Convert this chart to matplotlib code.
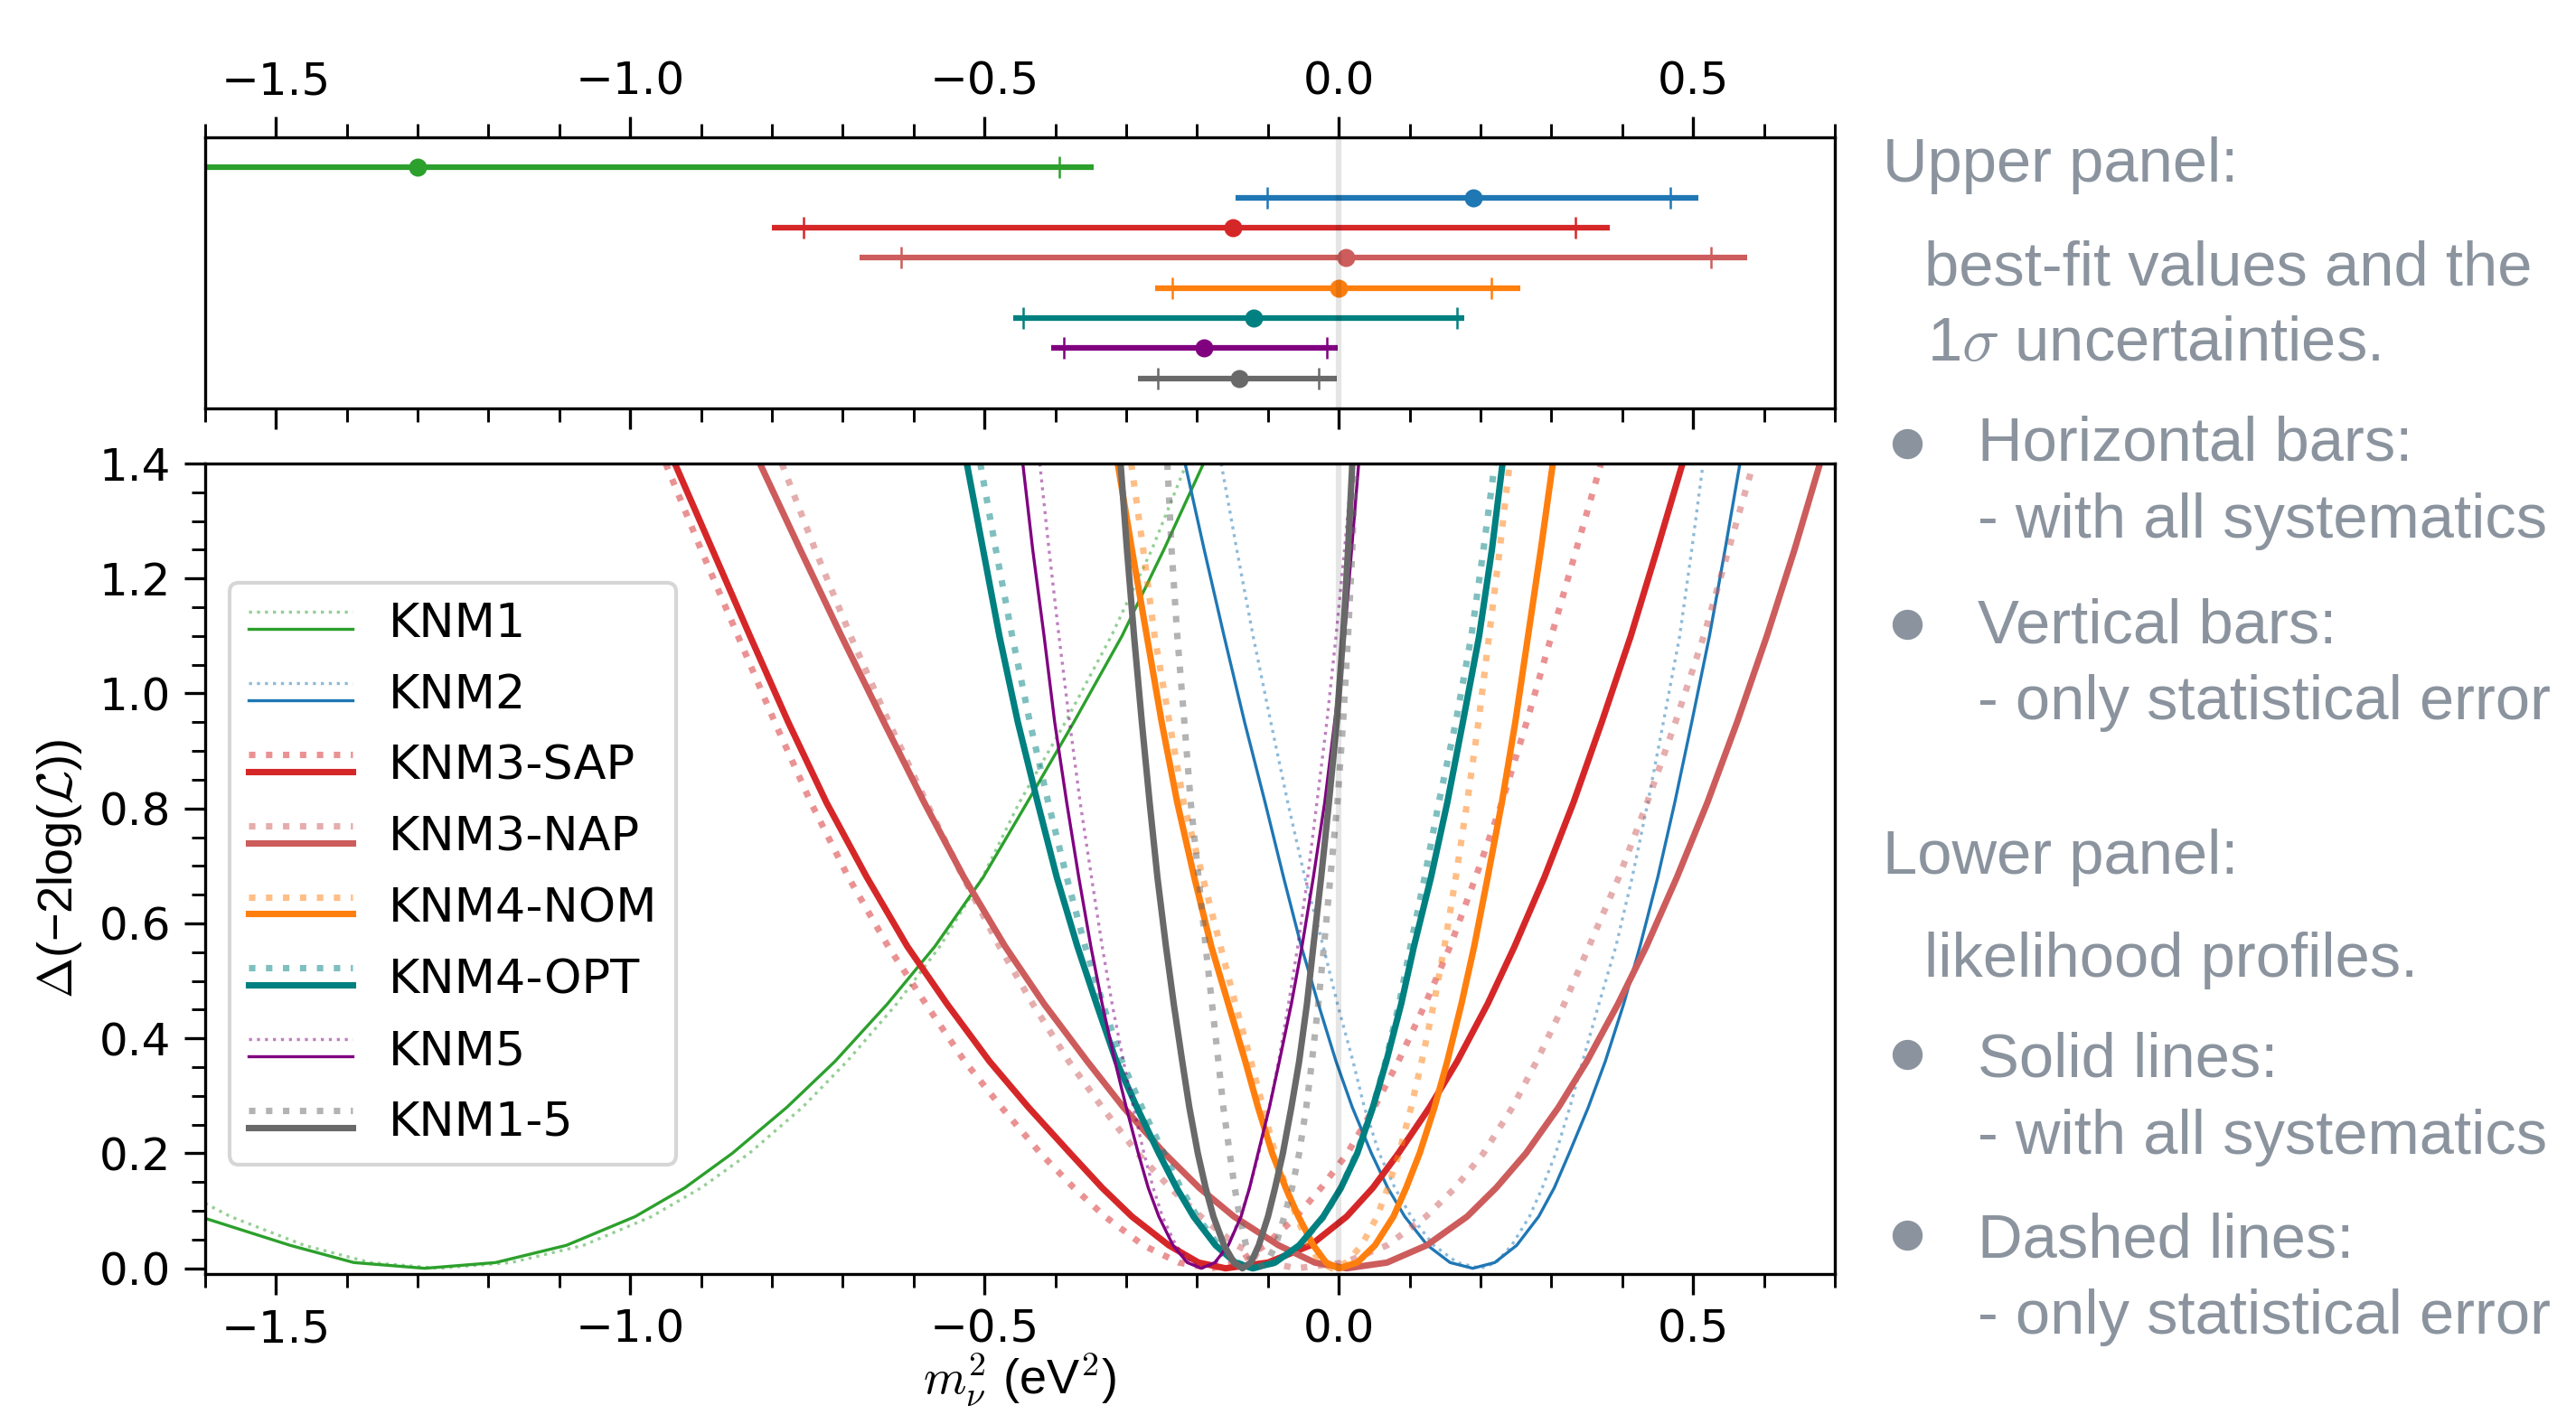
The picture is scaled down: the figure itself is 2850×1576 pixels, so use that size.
import matplotlib
matplotlib.use('Agg')
import matplotlib.pyplot as plt
from matplotlib.lines import Line2D
from matplotlib.legend_handler import HandlerBase
from matplotlib.ticker import MultipleLocator

plt.rcParams['font.size'] = 12
plt.rcParams['mathtext.fontset'] = 'cm'

labels = ['KNM1', 'KNM2', 'KNM3-SAP', 'KNM3-NAP', 'KNM4-NOM', 'KNM4-OPT', 'KNM5', 'KNM1-5']
colors = ['tab:green', 'tab:blue', 'tab:red', 'indianred', 'tab:orange', 'teal', 'purple', 'dimgray']
thick = [False, False, True, True, True, True, False, True]

# upper panel: best fit, total 1 sigma (bar) and stat-only 1 sigma (caps)
best_fit = [-1.30, 0.19, -0.15, 0.01, 0.00, -0.12, -0.19, -0.14]
tot_lo = [-2.25, -0.146, -0.80, -0.676, -0.259, -0.459, -0.406, -0.283]
tot_hi = [-0.346, 0.507, 0.382, 0.576, 0.256, 0.177, -0.002, -0.003]
stat_lo = [-2.20, -0.101, -0.755, -0.618, -0.235, -0.446, -0.388, -0.256]
stat_hi = [-0.395, 0.468, 0.334, 0.525, 0.215, 0.167, -0.017, -0.029]

# lower panel: likelihood profiles (solid = all syst, _stat = stat only)
# KNM1 runs out of the frame on the left, so it gets its own y values
knm1_x = [-1.60, -1.48, -1.39, -1.29, -1.19, -1.09, -0.993, -0.923, -0.856, -0.779, -0.711, -0.637, -0.57,
          -0.502, -0.44, -0.374, -0.306, -0.247, -0.191]
knm1_y = [0.087, 0.04, 0.01, 0.0, 0.01, 0.04, 0.09, 0.14, 0.20, 0.28, 0.36, 0.46, 0.56,
          0.68, 0.81, 0.95, 1.10, 1.25, 1.40]
knm1_stat_x = [-1.60, -1.564, -1.46, -1.367, -1.27, -1.168, -1.066, -0.97, -0.90, -0.832, -0.757, -0.694,
               -0.624, -0.563, -0.503, -0.451, -0.386, -0.321, -0.264, -0.215]
knm1_stat_y = [0.113, 0.09, 0.04, 0.01, 0.0, 0.01, 0.04, 0.09, 0.14, 0.20, 0.28, 0.36,
               0.46, 0.56, 0.68, 0.81, 0.95, 1.10, 1.25, 1.40]

# the other profiles: x where each curve crosses these levels (left branch, minimum, right branch)
prof_levels = [1.40, 1.25, 1.10, 0.95, 0.81, 0.68, 0.56, 0.46, 0.36, 0.28, 0.20, 0.14, 0.09, 0.04, 0.01, 0.0,
               0.01, 0.04, 0.09, 0.14, 0.20, 0.28, 0.36, 0.46, 0.56, 0.68, 0.81, 0.95, 1.10, 1.25, 1.40]
knm2_x = [-0.217, -0.19, -0.162, -0.133, -0.104, -0.078, -0.053, -0.029, -0.004, 0.019, 0.046, 0.069, 0.093,
          0.125, 0.157, 0.189,
          0.22, 0.251, 0.282, 0.304, 0.325, 0.352, 0.376, 0.402, 0.425, 0.45, 0.474, 0.498, 0.523, 0.545, 0.566]
knm2_stat_x = [-0.166, -0.144, -0.121, -0.096, -0.072, -0.048, -0.022, -0.002, 0.02, 0.036, 0.057, 0.079, 0.102,
               0.134, 0.167, 0.20,
               0.222, 0.244, 0.269, 0.287, 0.306, 0.326, 0.344, 0.367, 0.391, 0.414, 0.436, 0.458, 0.481, 0.498,
               0.514]
knm3sap_x = [-0.937, -0.884, -0.831, -0.777, -0.723, -0.666, -0.609, -0.553, -0.493, -0.438, -0.379, -0.334,
             -0.292, -0.24, -0.198, -0.16,
             -0.10, -0.04, 0.011, 0.048, 0.084, 0.128, 0.167, 0.21, 0.248, 0.29, 0.331, 0.371, 0.412, 0.449, 0.485]
knm3sap_stat_x = [-0.95, -0.90, -0.848, -0.796, -0.745, -0.692, -0.636, -0.583, -0.528, -0.476, -0.421, -0.374,
                  -0.33, -0.276, -0.226, -0.18,
                  -0.143, -0.104, -0.06, -0.025, 0.012, 0.05, 0.084, 0.122, 0.157, 0.193, 0.23, 0.265, 0.30,
                  0.335, 0.37]
knm3nap_x = [-0.817, -0.76, -0.702, -0.642, -0.585, -0.529, -0.471, -0.416, -0.355, -0.304, -0.246, -0.197,
             -0.148, -0.085, -0.034, 0.011,
             0.068, 0.124, 0.181, 0.222, 0.264, 0.31, 0.35, 0.394, 0.434, 0.477, 0.52, 0.562, 0.604, 0.643, 0.679]
knm3nap_stat_x = [-0.786, -0.739, -0.689, -0.635, -0.582, -0.53, -0.479, -0.432, -0.381, -0.334, -0.284, -0.238,
                  -0.195, -0.144, -0.099, -0.06,
                  0.008, 0.068, 0.123, 0.164, 0.204, 0.245, 0.279, 0.318, 0.353, 0.395, 0.435, 0.475, 0.515,
                  0.55, 0.585]
knm4nom_x = [-0.312, -0.292, -0.271, -0.25, -0.228, -0.204, -0.18, -0.156, -0.132, -0.114, -0.094, -0.075,
             -0.057, -0.036, -0.018, 0.0,
             0.026, 0.051, 0.077, 0.095, 0.114, 0.135, 0.153, 0.173, 0.191, 0.21, 0.23, 0.249, 0.267, 0.285, 0.302]
knm4nom_stat_x = [-0.293, -0.276, -0.26, -0.239, -0.219, -0.192, -0.167, -0.146, -0.124, -0.107, -0.09, -0.074,
                  -0.06, -0.042, -0.026, -0.01,
                  0.011, 0.032, 0.054, 0.069, 0.085, 0.102, 0.117, 0.134, 0.149, 0.165, 0.181, 0.197, 0.212,
                  0.227, 0.241]
knm4opt_x = [-0.525, -0.502, -0.479, -0.453, -0.425, -0.398, -0.369, -0.342, -0.314, -0.285, -0.254, -0.229,
             -0.205, -0.174, -0.146, -0.122,
             -0.09, -0.056, -0.022, 0.003, 0.026, 0.048, 0.067, 0.088, 0.106, 0.13, 0.153, 0.175, 0.198, 0.216,
             0.231]
knm4opt_stat_x = [-0.506, -0.484, -0.461, -0.436, -0.41, -0.384, -0.358, -0.333, -0.306, -0.278, -0.247, -0.223,
                  -0.20, -0.17, -0.143, -0.12,
                  -0.089, -0.055, -0.021, 0.003, 0.025, 0.048, 0.066, 0.085, 0.101, 0.121, 0.141, 0.165, 0.187,
                  0.204, 0.22]
knm5_x = [-0.446, -0.432, -0.416, -0.401, -0.384, -0.367, -0.35, -0.334, -0.316, -0.30, -0.283, -0.269,
          -0.254, -0.234, -0.214, -0.194,
          -0.175, -0.156, -0.138, -0.126, -0.114, -0.098, -0.084, -0.067, -0.052, -0.036, -0.02, -0.006, 0.008,
          0.018, 0.028]
knm5_stat_x = [-0.422, -0.409, -0.395, -0.38, -0.365, -0.349, -0.334, -0.32, -0.304, -0.29, -0.275, -0.262,
               -0.249, -0.23, -0.21, -0.19,
               -0.173, -0.156, -0.139, -0.126, -0.113, -0.098, -0.085, -0.071, -0.058, -0.044, -0.031, -0.017,
               -0.004, 0.008, 0.019]
knm15_x = [-0.308, -0.299, -0.289, -0.278, -0.267, -0.256, -0.244, -0.233, -0.221, -0.211, -0.199, -0.188,
           -0.177, -0.162, -0.148, -0.136,
           -0.124, -0.113, -0.10, -0.09, -0.079, -0.067, -0.056, -0.045, -0.036, -0.025, -0.014, -0.003, 0.006,
           0.013, 0.019]
knm15_stat_x = [-0.242, -0.236, -0.228, -0.218, -0.209, -0.198, -0.188, -0.179, -0.17, -0.163, -0.154, -0.147,
                -0.14, -0.131, -0.123, -0.115,
                -0.102, -0.089, -0.077, -0.066, -0.056, -0.046, -0.038, -0.029, -0.021, -0.012, -0.002, 0.006,
                0.013, 0.019, 0.023]

profiles = [
    (knm1_x, knm1_y, knm1_stat_x, knm1_stat_y),
    (knm2_x, prof_levels, knm2_stat_x, prof_levels),
    (knm3sap_x, prof_levels, knm3sap_stat_x, prof_levels),
    (knm3nap_x, prof_levels, knm3nap_stat_x, prof_levels),
    (knm4nom_x, prof_levels, knm4nom_stat_x, prof_levels),
    (knm4opt_x, prof_levels, knm4opt_stat_x, prof_levels),
    (knm5_x, prof_levels, knm5_stat_x, prof_levels),
    (knm15_x, prof_levels, knm15_stat_x, prof_levels),
]

note_color = '#8b949e'
note_font = 'Liberation Sans'


class TwoLineHandler(HandlerBase):
    # dotted line on top, solid one below, like the original legend
    def create_artists(self, legend, orig_handle, xdescent, ydescent, width, height, fontsize, trans):
        dotted, solid = orig_handle
        yc = height / 2 - ydescent
        out = []
        for h, dy in ((dotted, 0.18 * fontsize), (solid, -0.18 * fontsize)):
            ln = Line2D([-xdescent, width - xdescent], [yc + dy, yc + dy])
            self.update_prop(ln, h, legend)
            ln.set_transform(trans)
            out.append(ln)
        return out


fig = plt.figure(figsize=(9.5, 1576 / 300))
ax_top = fig.add_axes([0.0796, 0.7132, 0.6327, 0.1904])
ax = fig.add_axes([0.0796, 0.1053, 0.6327, 0.5692])

# ---- upper panel
n = len(labels)
for i in range(n):
    ypos = n - i
    c = colors[i]
    ax_top.errorbar(best_fit[i], ypos, xerr=[[best_fit[i] - tot_lo[i]], [tot_hi[i] - best_fit[i]]],
                    fmt='o', ms=3.8, color=c, elinewidth=1.5, capsize=0)
    ax_top.errorbar(best_fit[i], ypos, xerr=[[best_fit[i] - stat_lo[i]], [stat_hi[i] - best_fit[i]]],
                    fmt='none', ecolor=c, elinewidth=0.6, capsize=2.8, capthick=0.6)
ax_top.axvline(0, color='k', alpha=0.1, lw=1.5, zorder=5)
ax_top.set_xlim(-1.6, 0.7)
ax_top.set_ylim(0, n + 1)
ax_top.set_yticks([])
ax_top.xaxis.set_major_locator(MultipleLocator(0.5))
ax_top.xaxis.set_minor_locator(MultipleLocator(0.1))
ax_top.tick_params(axis='x', which='both', top=True, bottom=True, labeltop=True, labelbottom=False, direction='out')
ax_top.tick_params(which='major', length=5.5, width=0.8)
ax_top.tick_params(which='minor', length=3.5, width=0.7)

# ---- lower panel
handles = []
for i in range(n):
    xs, ys, xs_stat, ys_stat = profiles[i]
    lw = 1.7 if thick[i] else 0.8
    d, = ax.plot(xs_stat, ys_stat, ls=':', color=colors[i], alpha=0.5, lw=lw)
    s, = ax.plot(xs, ys, ls='-', color=colors[i], lw=lw)
    handles.append((d, s))
ax.axvline(0, color='k', alpha=0.1, lw=1.5, zorder=5)

ax.set_xlim(-1.6, 0.7)
ax.set_ylim(-0.01, 1.4)
ax.xaxis.set_major_locator(MultipleLocator(0.5))
ax.xaxis.set_minor_locator(MultipleLocator(0.1))
ax.yaxis.set_major_locator(MultipleLocator(0.2))
ax.yaxis.set_minor_locator(MultipleLocator(0.05))
ax.tick_params(which='both', direction='out', top=False, right=False)
ax.tick_params(which='major', length=5.5, width=0.8)
ax.tick_params(which='minor', length=3.5, width=0.7)

ax.set_xlabel(r'$m_{\nu}^{2}$ (eV$^{2}$)', family=note_font, fontsize=13, labelpad=0)
ax.set_ylabel(r'$\mathit{\Delta}$(−2log($\mathcal{L}$))', family=note_font, fontsize=13)

ax.legend(handles=handles, labels=labels, handler_map={tuple: TwoLineHandler()},
          loc='upper left', bbox_to_anchor=(0.015, 0.853), borderaxespad=0,
          handlelength=2.2, handletextpad=0.75, labelspacing=0.55, fontsize=12.6)

# ---- notes on the right
W, H = 2850.0, 1576.0
notes = [
    ('Upper panel:', 2083, 201),
    ('best-fit values and the', 2129, 315),
    (r'1$\sigma$ uncertainties.', 2132, 399),
    ('Horizontal bars:', 2188, 509),
    ('- with all systematics', 2188, 595),
    ('Vertical bars:', 2188, 711),
    ('- only statistical error', 2188, 796),
    ('Lower panel:', 2083, 967),
    ('likelihood profiles.', 2129, 1081),
    ('Solid lines:', 2188, 1191),
    ('- with all systematics', 2188, 1277),
    ('Dashed lines:', 2188, 1391),
    ('- only statistical error', 2188, 1476),
]
for txt, px, py in notes:
    fig.text(px / W, 1 - py / H, txt, family=note_font, fontsize=16.5, color=note_color,
             ha='left', va='baseline')

for py in [491, 691, 1167, 1367]:
    fig.add_artist(Line2D([2110 / W], [1 - py / H], marker='o', ms=7, color=note_color,
                          transform=fig.transFigure))

fig.savefig('out.png', dpi=300)
